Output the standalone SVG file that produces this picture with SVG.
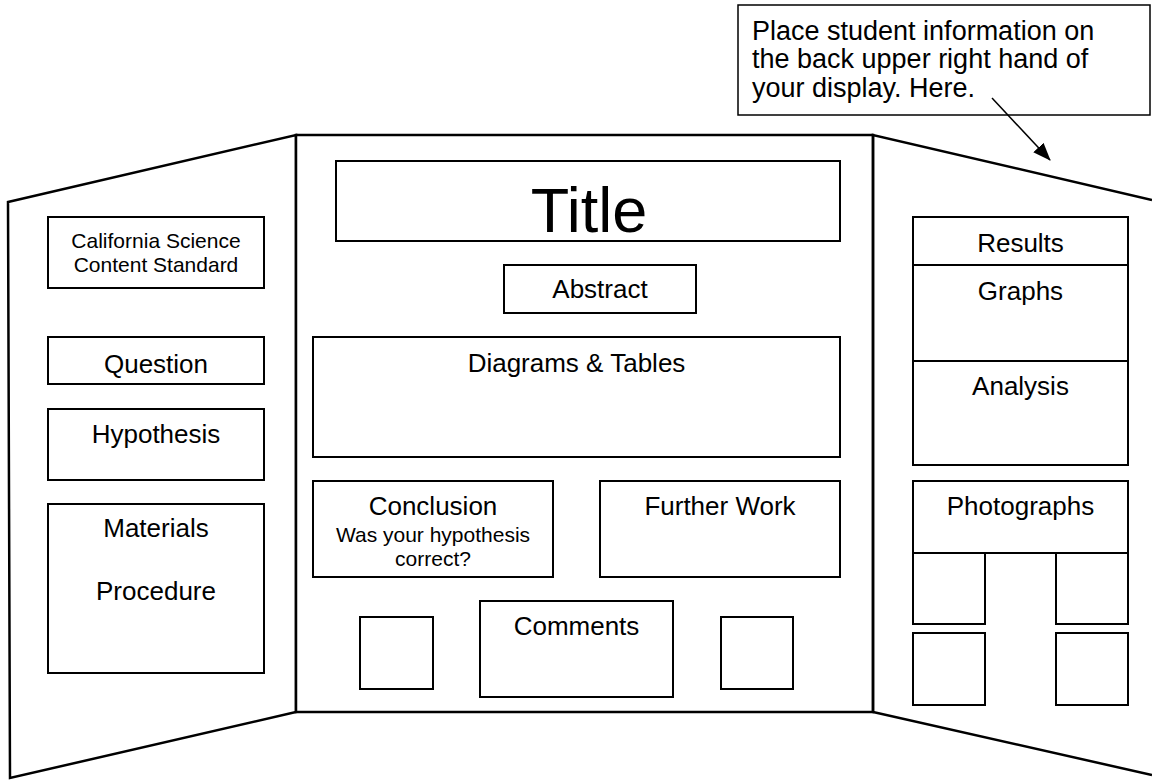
<svg xmlns="http://www.w3.org/2000/svg" width="1152" height="780" viewBox="0 0 1152 780">
  <style>
    .panel { fill: #ffffff; stroke: #000000; stroke-width: 2.5; stroke-linejoin: miter; }
    .box { fill: #ffffff; stroke: #000000; stroke-width: 2; }
    .txt { font-family: "Liberation Sans", Arial, sans-serif; fill: #000000; text-anchor: middle; }
    .lg { font-size: 26px; }
    .sm { font-size: 21px; }
    .title { font-size: 63px; }
    .note { font-family: "Liberation Sans", Arial, sans-serif; font-size: 27px; fill: #000000; }
    .conn { fill: none; stroke: #000000; stroke-width: 1.5; }
  </style>
  <defs>
    <marker id="arrowhead" markerWidth="18" markerHeight="14" refX="17" refY="7" orient="auto" markerUnits="userSpaceOnUse">
      <path d="M0,0 L18,7 L0,14 Z" fill="#000000"/>
    </marker>
  </defs>

  <rect width="1152" height="780" fill="#ffffff"/>

  <!-- Tri-fold board panels -->
  <g id="board">
    <polygon class="panel" points="8,202 296,135 296,712 10,778"/>
    <rect class="panel" x="296" y="135" width="577" height="577"/>
    <polyline class="panel" points="1152,200 873,135 873,712 1152,775" style="fill:none"/>
  </g>

  <!-- Left panel -->
  <g id="standard">
    <rect class="box" x="48" y="217" width="216" height="71"/>
    <text class="txt sm" x="156" y="248">California Science</text>
    <text class="txt sm" x="156" y="272">Content Standard</text>
  </g>
  <g id="question">
    <rect class="box" x="48" y="337" width="216" height="47"/>
    <text class="txt lg" x="156" y="373">Question</text>
  </g>
  <g id="hypothesis">
    <rect class="box" x="48" y="409" width="216" height="71"/>
    <text class="txt lg" x="156" y="443">Hypothesis</text>
  </g>
  <g id="materials">
    <rect class="box" x="48" y="504" width="216" height="169"/>
    <text class="txt lg" x="156" y="537">Materials</text>
    <text class="txt lg" x="156" y="600">Procedure</text>
  </g>

  <!-- Center panel -->
  <g id="title">
    <rect class="box" x="336" y="161" width="504" height="80"/>
    <text class="txt title" x="589" y="232">Title</text>
  </g>
  <g id="abstract">
    <rect class="box" x="504" y="265" width="192" height="48"/>
    <text class="txt lg" x="600" y="298">Abstract</text>
  </g>
  <g id="diagrams">
    <rect class="box" x="313" y="337" width="527" height="120"/>
    <text class="txt lg" x="576.5" y="372">Diagrams &amp; Tables</text>
  </g>
  <g id="conclusion">
    <rect class="box" x="313" y="481" width="240" height="96"/>
    <text class="txt lg" x="433" y="515">Conclusion</text>
    <text class="txt sm" x="433" y="542">Was your hypothesis</text>
    <text class="txt sm" x="433" y="566">correct?</text>
  </g>
  <g id="further-work">
    <rect class="box" x="600" y="481" width="240" height="96"/>
    <text class="txt lg" x="720" y="515">Further Work</text>
  </g>
  <g id="comments">
    <rect class="box" x="480" y="601" width="193" height="96"/>
    <text class="txt lg" x="576.5" y="635">Comments</text>
  </g>
  <g id="photo-left">
    <rect class="box" x="360" y="617" width="73" height="72"/>
  </g>
  <g id="photo-right">
    <rect class="box" x="721" y="617" width="72" height="72"/>
  </g>

  <!-- Right panel -->
  <g id="results">
    <rect class="box" x="913" y="217" width="215" height="248"/>
    <line class="box" x1="913" y1="265" x2="1128" y2="265"/>
    <line class="box" x1="913" y1="361" x2="1128" y2="361"/>
    <text class="txt lg" x="1020.5" y="252">Results</text>
    <text class="txt lg" x="1020.5" y="300">Graphs</text>
    <text class="txt lg" x="1020.5" y="395">Analysis</text>
  </g>
  <g id="photographs">
    <rect class="box" x="913" y="481" width="215" height="72"/>
    <text class="txt lg" x="1020.5" y="515">Photographs</text>
    <rect class="box" x="913" y="553" width="72" height="71"/>
    <rect class="box" x="1056" y="553" width="72" height="71"/>
    <rect class="box" x="913" y="633" width="72" height="72"/>
    <rect class="box" x="1056" y="633" width="72" height="72"/>
  </g>

  <!-- Student information note -->
  <g id="note">
    <rect class="box" x="738" y="5" width="412" height="110" style="stroke-width:1.5"/>
    <text class="note" x="752" y="40">Place student information on</text>
    <text class="note" x="752" y="68">the back upper right hand of</text>
    <text class="note" x="752" y="97">your display. Here.</text>
  </g>

  <!-- Connectors -->
  <g id="connectors">
    <line class="conn" x1="992" y1="98" x2="1050" y2="160" marker-end="url(#arrowhead)"/>
  </g>
</svg>
